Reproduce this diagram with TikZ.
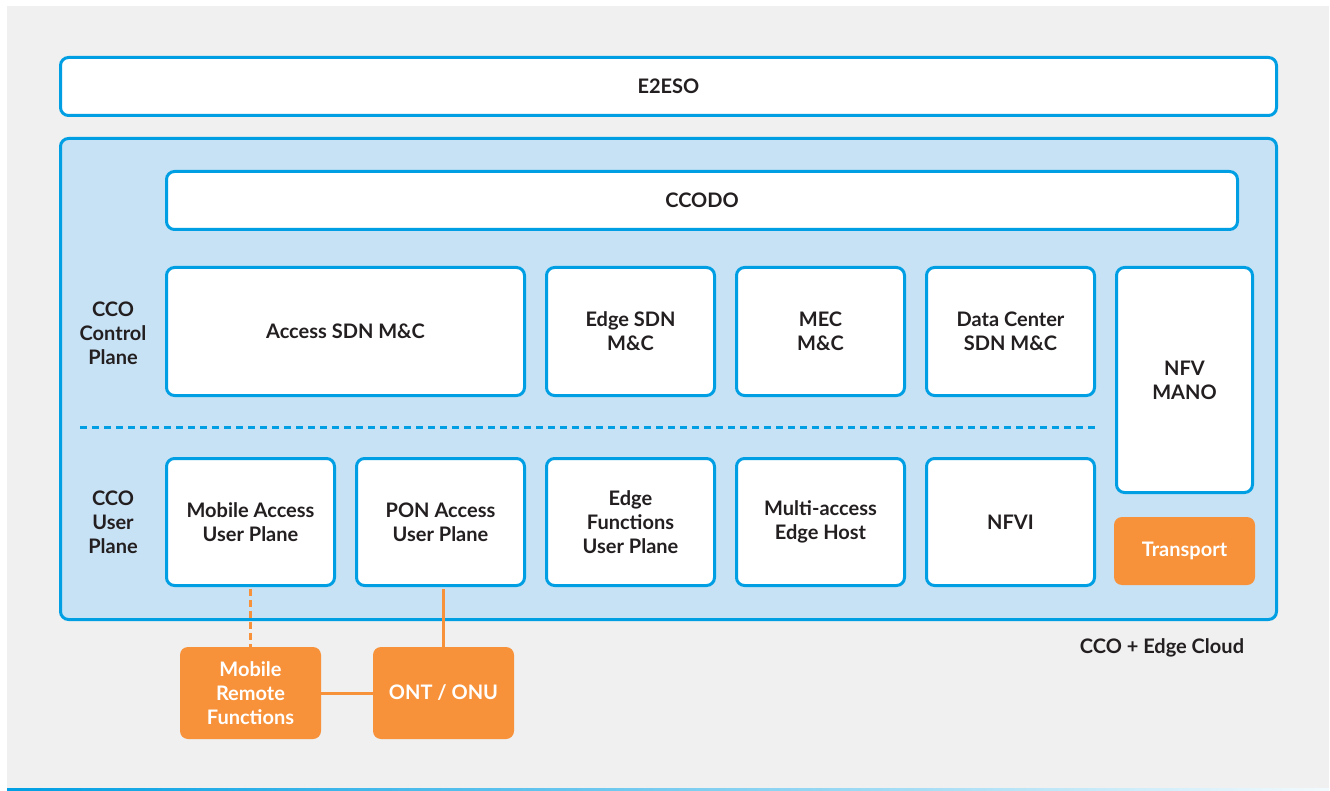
\documentclass[tikz,border=0pt]{standalone}
\usepackage{fontspec}
\setmainfont{Lato}
\usetikzlibrary{positioning}

\definecolor{ccoblue}{HTML}{009FE3}
\definecolor{ccofill}{HTML}{C8E2F5}
\definecolor{ccogray}{HTML}{F0F0F0}
\definecolor{ccoorange}{HTML}{F7923A}
\definecolor{ccotext}{HTML}{231F20}

\newcommand{\blkfont}{\fontsize{20}{24}\selectfont\bfseries}

\tikzset{
    blk/.style={draw=ccoblue, line width=3pt, fill=white, rounded corners=8pt,
        align=center, text=ccotext, font=\blkfont, inner sep=0pt},
    obox/.style={fill=ccoorange, rounded corners=8pt, align=center,
        text=white, font=\blkfont, inner sep=0pt},
    lbl/.style={align=center, text=ccotext, font=\blkfont, inner sep=0pt},
    oline/.style={draw=ccoorange, line width=3pt},
}

\begin{document}
\begin{tikzpicture}[x=1pt, y=-1pt]
        \useasboundingbox (0,0) rectangle (1330,791);
        \fill[white] (0,0) rectangle (1330,791);
        \fill[ccogray] (7,6) rectangle (1329,788);
        \shade[left color=ccoblue, right color=ccoblue!5] (7,788.5) rectangle (1329,790.5);

        \node[blk, minimum width=1216pt, minimum height=58pt] (e2eso) at (668.5,86.5) {E2ESO};
        \node[blk, fill=ccofill, minimum width=1216pt, minimum height=481pt] (cloud) at (668.5,379) {};
        \node[blk, minimum width=1071pt, minimum height=58pt] (ccodo) at (702,200.5) {CCODO};

        % control plane
        \node[blk, minimum width=358pt, minimum height=128pt] (accsdn) at (345.5,331.5) {Access SDN M\&C};
        \node[blk, minimum width=168pt, minimum height=128pt] (edgesdn) at (630.5,331.5) {Edge SDN\\M\&C};
        \node[blk, minimum width=168pt, minimum height=128pt] (mec) at (820.5,331.5) {MEC\\M\&C};
        \node[blk, minimum width=168pt, minimum height=128pt] (dcsdn) at (1010.5,331.5) {Data Center\\SDN M\&C};
        \node[blk, minimum width=136pt, minimum height=225pt] (nfvmano) at (1184.5,380) {NFV\\MANO};

        \draw[ccoblue, line width=3pt, dash pattern=on 7pt off 5pt] (80,427) -- (1096,427);

        % user plane
        \node[blk, minimum width=168pt, minimum height=127pt] (mobacc) at (250.5,522) {Mobile Access\\User Plane};
        \node[blk, minimum width=168pt, minimum height=127pt] (ponacc) at (440.5,522) {PON Access\\User Plane};
        \node[blk, minimum width=168pt, minimum height=127pt] (edgefn) at (630.5,522) {Edge\\Functions\\User Plane};
        \node[blk, minimum width=168pt, minimum height=127pt] (mah) at (820.5,522) {Multi-access\\Edge Host};
        \node[blk, minimum width=168pt, minimum height=127pt] (nfvi) at (1010.5,522) {NFVI};
        \node[obox, minimum width=141pt, minimum height=68pt] (transport) at (1184.5,551) {Transport};

        \node[lbl] (cpl) at (113,333) {CCO\\Control\\Plane};
        \node[lbl] (upl) at (113,522) {CCO\\User\\Plane};
        \node[lbl] (cloudlbl) at (1162,648) {CCO + Edge Cloud};

        % remote side
        \node[obox, minimum width=141pt, minimum height=92pt] (mrf) at (250.5,693) {Mobile\\Remote\\Functions};
        \node[obox, minimum width=141pt, minimum height=92pt] (ont) at (443.5,693) {ONT / ONU};

        \draw[oline, dash pattern=on 7pt off 4pt, shorten <=1.5pt] (mobacc.south) -- (mrf.north);
        \draw[oline, shorten >=1.5pt] (ont.north) -- (ont |- ponacc.south);
        \draw[oline] (mrf) -- (ont);
    \end{tikzpicture}
\end{document}
